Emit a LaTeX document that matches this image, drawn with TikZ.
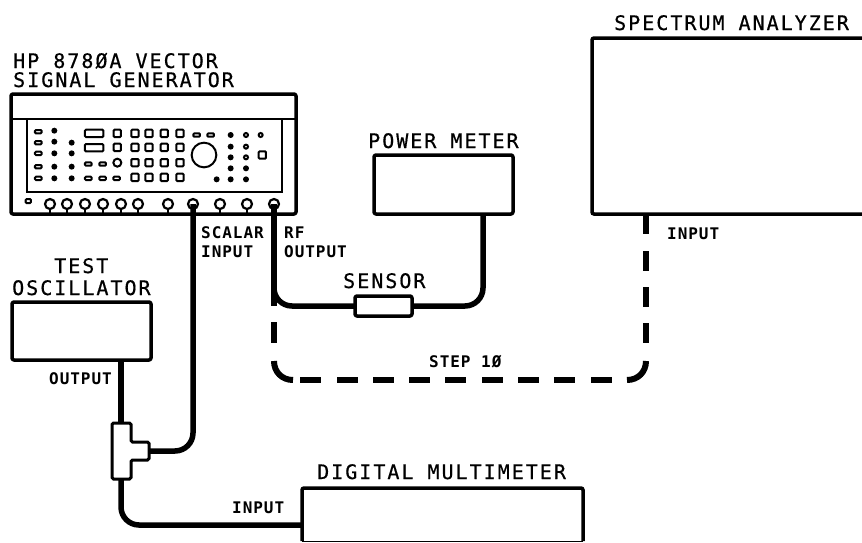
\documentclass[tikz,border=0pt]{standalone}
\usepackage{fontspec}
\setmainfont{DejaVu Sans Mono}
\newfontfamily\bigf[LetterSpace=10,FakeBold=0.6]{DejaVu Sans Mono}
\newfontfamily\smallf[LetterSpace=6,UprightFont={* Bold}]{DejaVu Sans Mono}
\tikzset{
  big/.style={anchor=base west,inner sep=0pt,font=\bigf\fontsize{20}{20}\selectfont},
  small/.style={anchor=base west,inner sep=0pt,font=\smallf\fontsize{16}{16}\selectfont},
  box/.style={draw,line width=3.5pt,rounded corners=2pt,anchor=north west,inner sep=0pt,outer sep=0pt,line join=round},
  cable/.style={line width=5.5pt,rounded corners=18pt},
  dashpiece/.style={line width=6pt,rounded corners=0pt},
  pill/.style={line width=2pt,rounded corners=1pt},
  knob/.style={line width=2.2pt}
}
\begin{document}
\begin{tikzpicture}[x=1pt,y=-1pt]
\useasboundingbox (0,0) rectangle (862,542);
% --- boxes
\node[box,minimum width=285pt,minimum height=120pt] (gen) at (11,94) {};
\node[box,minimum width=139pt,minimum height=59pt] (pm) at (374,155) {};
\node[box,minimum width=139pt,minimum height=58pt] (osc) at (12,302) {};
\node[box,minimum width=57pt,minimum height=20pt] (sensor) at (355,296) {};
\draw[line width=3.5pt,rounded corners=2pt] (862,38) coordinate (saTR) -- (592,38) -- (592,214) -- (862,214) coordinate (saBR);
\draw[line width=3.5pt,rounded corners=2pt] (302,541) coordinate (dmmBL) -- (302,488) -- (583,488) -- (583,541) coordinate (dmmBR);
\draw[line width=1pt] (dmmBL) -- (dmmBR);
% --- generator face
\draw[line width=2pt] (gen.west |- 0,119) coordinate (genL) -- (gen.east |- 0,119);
\draw[line width=2pt] (27,119) -- (27,192) -- (282,192) -- (282,119);
\begin{scope}[shift={(0pt,-40pt)},x=0.33333pt,y=-0.33333pt]
  \foreach \x/\y in {115/275,115/308,115/340,115/380,115/415,265/372,308/372,265/415,308/415,350/415,590/285,632/285}
    \draw[pill] (\x-10,\y-5) rectangle (\x+10,\y+5);
  \foreach \x/\y in {163/272,163/305,163/340,163/380,163/415,215/308,215/340,215/380,215/415,692/285,692/320,692/352,692/385,738/385,650/418,692/418,738/418}
    \fill (\x,\y) circle[radius=9];
  \foreach \x/\y in {738/285,782/285,738/320,738/352}
    \draw[line width=2pt] (\x,\y) circle[radius=6];
  \foreach \y in {280,323}
    \draw[pill] (255,\y-11) rectangle (310,\y+11);
  \foreach \x/\y in {352/280,352/322,405/280,447/280,493/280,540/280,405/322,447/322,493/322,540/322,405/368,447/368,493/368,540/368,405/412,447/412,493/412,540/412,787/345}
    \draw[pill] (\x-11,\y-11) rectangle (\x+11,\y+11);
  \draw[pill] (352,368) circle[radius=12];
  \draw[line width=2pt] (612,345) circle[radius=37];
  \draw[pill] (77,477) rectangle (93,489);
\end{scope}
% --- generator connectors
\foreach \n/\x in {a/50,b/67,c/85,d/103,e/121,f/138,g/168,h/220,i/247} {
  \draw[knob] (\x,204) circle[radius=5];
  \draw[line width=1.5pt] (\x,209) -- (\x,213);
}
\draw[knob] (193,204) circle[radius=5] coordinate (scalarPort);
\draw[knob] (274,204) circle[radius=5] coordinate (rfPort);
% --- tee
\coordinate (teeT) at (121,423);
\coordinate (teeB) at (121,479);
\coordinate (teeE) at (149,451);
\draw[line width=3pt,rounded corners=1.5pt] (112,423) -- (131,423) -- (131,442) -- (149,442) -- (149,460) -- (131,460) -- (131,479) -- (112,479) -- cycle;
% --- cables
\coordinate (pmIn) at (483,214);
\coordinate (oscOut) at (121,360);
\coordinate (dmmIn) at (302,525);
\draw[cable] (scalarPort) |- (teeE);
\draw[cable] (oscOut) -- (teeT);
\draw[cable] (teeB) |- (dmmIn);
\draw[line width=5.5pt] (rfPort) -- (rfPort |- sensor.west);
\draw[cable] (rfPort) |- (sensor.west);
\draw[cable] (sensor.east) -| (pmIn);
% --- dashed route
\coordinate (saIn) at (646,214);
\draw[dashpiece] (saIn) -- ++(0,20);
\foreach \y in {251,287,323} \draw[dashpiece] (saIn |- 0,\y) -- ++(0,20);
\draw[dashpiece] (646,361) .. controls (646,372) and (638,380) .. (627,380);
\foreach \x in {591,554,518,482,445,409,373,337,300} \draw[dashpiece] (\x,380) -- ++(21,0);
\draw[dashpiece] (293,380) .. controls (282,380) and (274,372) .. (274,361);
\draw[dashpiece] (274,322) -- (274,343);
% --- labels
\node[big] (tGen1) at (13,68) {HP 878ØA VECTOR};
\node[big] (tGen2) at (13,87) {SIGNAL GENERATOR};
\node[big] (tPm) at (368,148) {POWER METER};
\node[big] (tSa) at (614,30) {SPECTRUM ANALYZER};
\node[big] (tSens) at (343,288) {SENSOR};
\node[big] (tOsc1) at (54,273) {TEST};
\node[big] (tOsc2) at (12,295) {OSCILLATOR};
\node[big] (tDmm) at (317,479) {DIGITAL MULTIMETER};
\node[small] (tSc1) at (201,238) {SCALAR};
\node[small] (tSc2) at (201,257) {INPUT};
\node[small] (tRf1) at (284,238) {RF};
\node[small] (tRf2) at (284,257) {OUTPUT};
\node[small] (tOut) at (49,384) {OUTPUT};
\node[small] (tIn1) at (232,513) {INPUT};
\node[small] (tIn2) at (667,239) {INPUT};
\node[small] (tStep) at (429,367) {STEP 1Ø};
\end{tikzpicture}
\end{document}
